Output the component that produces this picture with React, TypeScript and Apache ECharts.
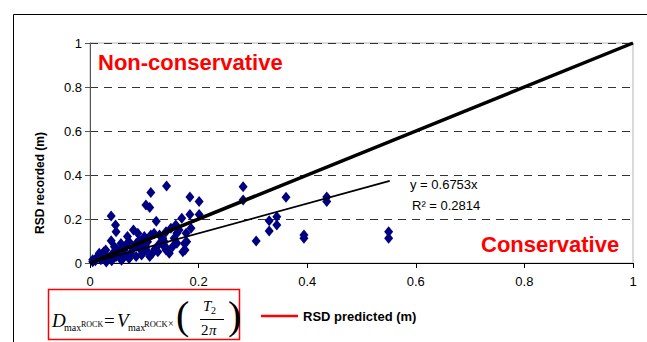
import React, { useEffect, useRef } from "react";
import * as echarts from "echarts";

const xTicks = [0, 0.2, 0.4, 0.6, 0.8, 1];
const yTicks = [0, 0.2, 0.4, 0.6, 0.8, 1];

const recordedPoints: number[][] = [
  [0.141, 0.35], [0.112, 0.32], [0.103, 0.264], [0.11, 0.252], [0.184, 0.3], [0.201, 0.279],
  [0.184, 0.22], [0.201, 0.22], [0.169, 0.203], [0.122, 0.19], [0.039, 0.214],
  [0.282, 0.347], [0.282, 0.286], [0.361, 0.299], [0.436, 0.3], [0.436, 0.279], [0.33, 0.192],
  [0.33, 0.145], [0.344, 0.21], [0.344, 0.173], [0.306, 0.1], [0.394, 0.127], [0.394, 0.112],
  [0.55, 0.142], [0.55, 0.112],
  [0.047, 0.173], [0.048, 0.142], [0.039, 0.101], [0.045, 0.074], [0.088, 0.135], [0.057, 0.089],
  [0.072, 0.097], [0.069, 0.12], [0.1, 0.12], [0.112, 0.127], [0.118, 0.135], [0.128, 0.127],
  [0.14, 0.142], [0.149, 0.158], [0.158, 0.173], [0.164, 0.15], [0.177, 0.135], [0.174, 0.089],
  [0.171, 0.051], [0.152, 0.074], [0.14, 0.059], [0.115, 0.044], [0.097, 0.044], [0.079, 0.067],
  [0.063, 0.059], [0.029, 0.059], [0.017, 0.044], [0.011, 0.021], [0.005, 0.006], [0.023, 0.029],
  [0.036, 0.021], [0.048, 0.029], [0.06, 0.021], [0.072, 0.021], [0.085, 0.029], [0.091, 0.067],
  [0.103, 0.074], [0.128, 0.089], [0.137, 0.097], [0.106, 0.097], [0.085, 0.089], [0.091, 0.105],
  [0.066, 0.082], [0.051, 0.059], [0.042, 0.044], [0.125, 0.051], [0.146, 0.044], [0.134, 0.112],
  [0.155, 0.112], [0.186, 0.158], [0.178, 0.097], [0.175, 0.059], [0.08, 0.15], [0.16, 0.135],
  [0.141, 0.067], [0.104, 0.059], [0.095, 0.036],
  [0.01, 0.01], [0.02, 0.015], [0.03, 0.035], [0.015, 0.03], [0.04, 0.01], [0.055, 0.04],
  [0.065, 0.035], [0.075, 0.045], [0.03, 0.005], [0.058, 0.012], [0.11, 0.03], [0.12, 0.065],
  [0.135, 0.08], [0.16, 0.09], [0.095, 0.08], [0.025, 0.05], [0.005, 0.015],
];

const predictedLine: number[][] = [[0, 0], [1, 1]];
const trendSlope = 0.6753;
const trendXEnd = 0.552;
const trendLine: number[][] = [[0, 0], [trendXEnd, trendSlope * trendXEnd]];

const serif = "'Liberation Serif', 'Times New Roman', serif";
const sans = "'Liberation Sans', Arial, sans-serif";

export default function App() {
  const ref = useRef<HTMLDivElement>(null);
  useEffect(() => {
    if (!ref.current) return;
    const chart = echarts.init(ref.current, null, { renderer: "svg" });
    const t = (text: string, x: number, y: number, font: string, extra: any = {}) => ({
      type: "text",
      x,
      y,
      silent: true,
      style: { text, font, fill: "#000", align: "left", verticalAlign: "middle", ...extra },
    });
    chart.setOption({
      animation: false,
      backgroundColor: "#fff",
      grid: { left: 90, right: 14, top: 43, bottom: 79, show: true, borderColor: "#b4b4b4", borderWidth: 1 },
      xAxis: {
        type: "value",
        min: xTicks[0],
        max: xTicks[xTicks.length - 1],
        interval: 0.2,
        axisLine: { lineStyle: { color: "#000", width: 1 } },
        axisTick: { show: true, length: 5, lineStyle: { color: "#000" } },
        axisLabel: { color: "#000", fontFamily: sans, fontSize: 13, margin: 12 },
        splitLine: { show: false },
      },
      yAxis: {
        type: "value",
        min: yTicks[0],
        max: yTicks[yTicks.length - 1],
        interval: 0.2,
        axisLine: { show: true, lineStyle: { color: "#555", width: 1 } },
        axisTick: { show: true, length: 5, lineStyle: { color: "#555" } },
        axisLabel: { color: "#000", fontFamily: sans, fontSize: 13, margin: 8 },
        splitLine: { show: true, lineStyle: { color: "#333", type: [8, 6], width: 1 } },
      },
      series: [
        {
          type: "scatter",
          data: recordedPoints,
          symbol: "diamond",
          symbolSize: [9, 11],
          itemStyle: { color: "#000080", opacity: 1 },
          z: 2,
        },
        {
          type: "line",
          data: predictedLine,
          showSymbol: false,
          symbol: "none",
          lineStyle: { color: "#000", width: 3.5 },
          z: 3,
        },
        {
          type: "line",
          data: trendLine,
          showSymbol: false,
          symbol: "none",
          lineStyle: { color: "#000", width: 1.8 },
          z: 3,
        },
      ],
      graphic: [
        {
          type: "rect",
          silent: true,
          shape: { x: 13.5, y: 14.5, width: 800, height: 400 },
          style: { fill: "none", stroke: "#000", lineWidth: 1 },
          z: -1,
        },
        {
          type: "text",
          x: 40,
          y: 183,
          rotation: Math.PI / 2,
          silent: true,
          style: { text: "RSD recorded (m)", font: `bold 12px ${sans}`, fill: "#000", align: "center", verticalAlign: "middle" },
        },
        t("Non-conservative", 98, 62, `bold 22px ${sans}`, { fill: "#ff0000" }),
        t("Conservative", 481, 244, `bold 22px ${sans}`, { fill: "#ff0000" }),
        t("y = 0.6753x", 410, 184, `13px ${sans}`),
        t("R² = 0.2814", 412, 205, `13px ${sans}`),
        {
          type: "rect",
          silent: true,
          shape: { x: 48.5, y: 289.5, width: 191, height: 50 },
          style: { fill: "#fff", stroke: "#ff0000", lineWidth: 1.5 },
        },
        t("D", 52, 320, `italic 19px ${serif}`),
        t("max", 64, 327, `10px ${serif}`),
        t("ROCK", 81, 324, `8px ${serif}`),
        t("=", 104, 320, `19px ${serif}`),
        t("V", 117, 320, `italic 19px ${serif}`),
        t("max", 128, 327, `10px ${serif}`),
        t("ROCK", 144, 324, `8.5px ${serif}`),
        t("×", 168, 323, `10px ${serif}`),
        t("(", 176, 315, `40px ${serif}`),
        t("T", 203, 306, `italic 15px ${serif}`),
        t("2", 211, 310, `10px ${serif}`),
        {
          type: "line",
          silent: true,
          shape: { x1: 200, y1: 319.5, x2: 224, y2: 319.5 },
          style: { stroke: "#000", lineWidth: 1 },
        },
        t("2", 201, 330, `15px ${serif}`),
        t("π", 209, 330, `italic 15px ${serif}`),
        t(")", 228, 315, `40px ${serif}`),
        {
          type: "line",
          silent: true,
          shape: { x1: 261, y1: 316, x2: 298, y2: 316 },
          style: { stroke: "#ff0000", lineWidth: 2.5 },
        },
        t("RSD predicted (m)", 303, 316, `bold 13px ${sans}`),
      ],
    });
    return () => chart.dispose();
  }, []);
  return (
    <div
      ref={ref}
      style={{ position: "fixed", left: 0, top: 0, width: 647, height: 342, background: "#fff" }}
    />
  );
}
